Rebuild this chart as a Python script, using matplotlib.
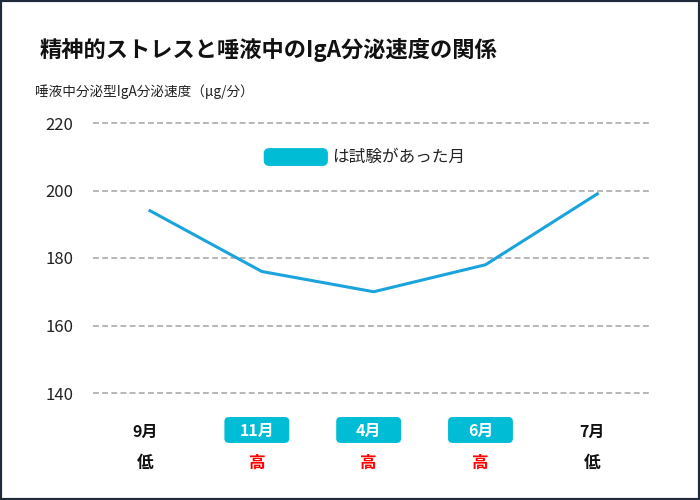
import matplotlib.pyplot as plt
from matplotlib.patches import FancyBboxPatch, Rectangle
from matplotlib.transforms import blended_transform_factory
import numpy as np

plt.rcParams['font.family'] = ['Noto Sans CJK JP', 'DejaVu Sans']

months = ['9月', '11月', '4月', '6月', '7月']
stress = ['低', '高', '高', '高', '低']
exam_month = [False, True, True, True, False]
iga_rate = [194, 176, 170, 178, 199]
y_ticks = [140, 160, 180, 200, 220]

line_color = '#1ba3dc'
box_color = '#00bcd4'

fig = plt.figure(figsize=(7, 5), dpi=100)
ax = fig.add_axes([93 / 700, 107 / 500, 558 / 700, 270 / 500])

x = np.arange(len(months))
for t in y_ticks:
    ax.axhline(t, color='#aaaaaa', lw=1.2, ls=(0, (3.5, 2)), clip_on=False, zorder=1)
ax.plot(x, iga_rate, color=line_color, lw=2.2, zorder=3)

ax.set_xlim(-0.51, 4.48)
ax.set_ylim(140, 220)
ax.set_yticks(y_ticks)
ax.set_yticklabels([str(t) for t in y_ticks], fontsize=12, color='#222222')
ax.tick_params(axis='y', length=0, pad=14)
ax.set_xticks([])
for s in ax.spines.values():
    s.set_visible(False)

trans = blended_transform_factory(ax.transData, ax.transAxes)
for i, (m, lvl, exam) in enumerate(zip(months, stress, exam_month)):
    cx = i - 0.045
    if exam:
        box = FancyBboxPatch((cx - 0.29, -0.185), 0.58, 0.096,
                             boxstyle='round,pad=0,rounding_size=0.04',
                             mutation_aspect=0.415, transform=trans,
                             facecolor=box_color, edgecolor='none', clip_on=False)
        ax.add_patch(box)
        ax.text(cx, -0.139, m, transform=trans, ha='center', va='center',
                fontsize=11.5, fontweight='bold', color='white')
    else:
        ax.text(cx, -0.143, m, transform=trans, ha='center', va='center',
                fontsize=11.5, fontweight='bold', color='#111111')
    ax.text(cx, -0.26, lvl, transform=trans, ha='center', va='center',
            fontsize=12, fontweight='bold',
            color='#ff0000' if lvl == '高' else '#111111')

# legend
leg = FancyBboxPatch((0.306, 0.841), 0.115, 0.066,
                     boxstyle='round,pad=0,rounding_size=0.01',
                     mutation_aspect=2.0, transform=ax.transAxes,
                     facecolor=box_color, edgecolor='none')
ax.add_patch(leg)
ax.text(0.428, 0.874, 'は試験があった月', transform=ax.transAxes,
        ha='left', va='center', fontsize=12, color='#222222')

fig.text(40 / 700, 1 - 50 / 500, '精神的ストレスと唾液中のIgA分泌速度の関係',
         ha='left', va='center', fontsize=16, fontweight='bold', color='#111111')
fig.text(35 / 700, 1 - 92 / 500, '唾液中分泌型IgA分泌速度（μg/分）',
         ha='left', va='center', fontsize=9.8, color='#222222')

fig.patches.append(Rectangle((0, 0), 1, 1, transform=fig.transFigure,
                             fill=False, edgecolor='#1f2b3a', lw=3))

fig.savefig('out.png', dpi=100)
